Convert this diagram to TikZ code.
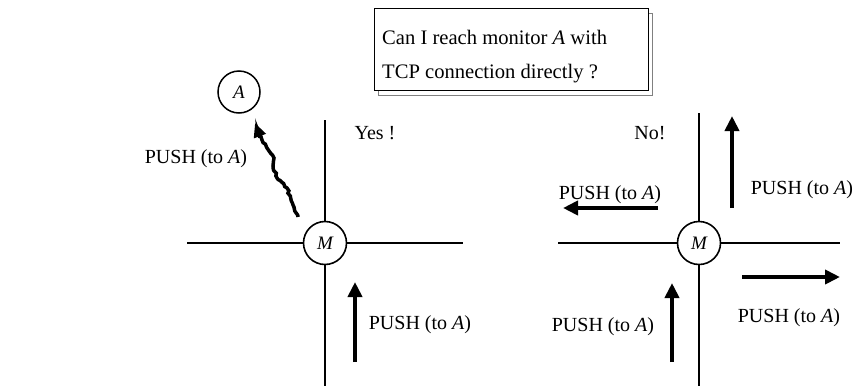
\documentclass[tikz,border=0pt]{standalone}
\usepackage{fontspec}
\setmainfont{Liberation Serif}
\usetikzlibrary{arrows.meta,decorations.pathmorphing,shadows}
\begin{document}
\begin{tikzpicture}[x=1pt,y=-1pt,
  txt/.style={font=\fontsize{20}{23}\selectfont, inner sep=0pt},
  qtxt/.style={font=\fontsize{20.6}{24}\selectfont, inner sep=0pt},
  monitor/.style={draw, circle, line width=1.6pt, fill=white, minimum size=43pt, inner sep=0pt,
    font=\fontsize{19}{22}\selectfont\itshape},
  wire/.style={line width=1.6pt},
  push/.style={line width=4pt, -{Triangle[length=15pt,width=14pt]}},
  frame/.style={draw, line width=1.3pt, fill=white,
    copy shadow={shadow xshift=4pt, shadow yshift=-5pt, draw=gray, line width=1.5pt, fill=white}}]
\useasboundingbox (0,0) rectangle (854,386);

% question box
\node[frame, minimum width=274pt, minimum height=82pt, anchor=north west] (q) at (374,8) {};
\node[qtxt, anchor=west] (q1) at (382,37) {Can I reach monitor \textit{A} with};
\node[qtxt, anchor=west] (q2) at (382,74) {TCP connection directly ?};

% ---- left cross: direct connection ----
\coordinate (lW) at (187,243);
\coordinate (lE) at (463,243);
\coordinate (lN) at (325,120);
\coordinate (lS) at (325,386);
\node[monitor] (m1) at (325,243) {M};
\draw[wire] (lW) -- (m1);
\draw[wire] (m1) -- (lE);
\draw[wire] (lN) -- (m1);
\draw[wire] (m1) -- (lS);

\node[draw, circle, line width=1.5pt, minimum size=42pt, inner sep=0pt,
  font=\fontsize{19}{22}\selectfont\itshape] (a) at (239,92) {A};

% jagged route towards A
\coordinate (s0) at (298,217);
\coordinate (s9) at (255,123);
\draw[line width=3.5pt, -{Triangle[length=14pt,width=12pt]},
  decoration={random steps, segment length=2.5pt, amplitude=0.9pt}]
  (s0) decorate{ -- (293,205) -- (287,188) -- (277,178) -- (273,166) -- (274,158)
  -- (267,148) -- (262,140) -- (258,131)} -- (s9);

\node[txt] (yes) at (375,133) {Yes !};
\node[txt] (p1) at (196,159) {PUSH (to \textit{A})};
\node[txt] (p2) at (420,325) {PUSH (to \textit{A})};
\coordinate (u1s) at (355,362);
\coordinate (u1e) at (355,282);
\draw[push] (u1s) -- (u1e);

% ---- right cross: relayed pushes ----
\coordinate (rW) at (558,243);
\coordinate (rE) at (840,243);
\coordinate (rN) at (699,113);
\coordinate (rS) at (699,386);
\node[monitor] (m2) at (699,243) {M};
\draw[wire] (rW) -- (m2);
\draw[wire] (m2) -- (rE);
\draw[wire] (rN) -- (m2);
\draw[wire] (m2) -- (rS);

\node[txt] (no) at (650,133) {No!};

\node[txt] (p3) at (610,195) {PUSH (to \textit{A})};
\coordinate (l3s) at (658,208);
\coordinate (l3e) at (563,208);
\draw[push] (l3s) -- (l3e);

\node[txt] (p4) at (802,190) {PUSH (to \textit{A})};
\coordinate (u4s) at (732,208);
\coordinate (u4e) at (732,116);
\draw[push] (u4s) -- (u4e);

\node[txt] (p5) at (789,318) {PUSH (to \textit{A})};
\coordinate (r5s) at (742,277);
\coordinate (r5e) at (840,277);
\draw[push] (r5s) -- (r5e);

\node[txt] (p6) at (603,327) {PUSH (to \textit{A})};
\coordinate (u6s) at (672,362);
\coordinate (u6e) at (672,283);
\draw[push] (u6s) -- (u6e);
\end{tikzpicture}
\end{document}
